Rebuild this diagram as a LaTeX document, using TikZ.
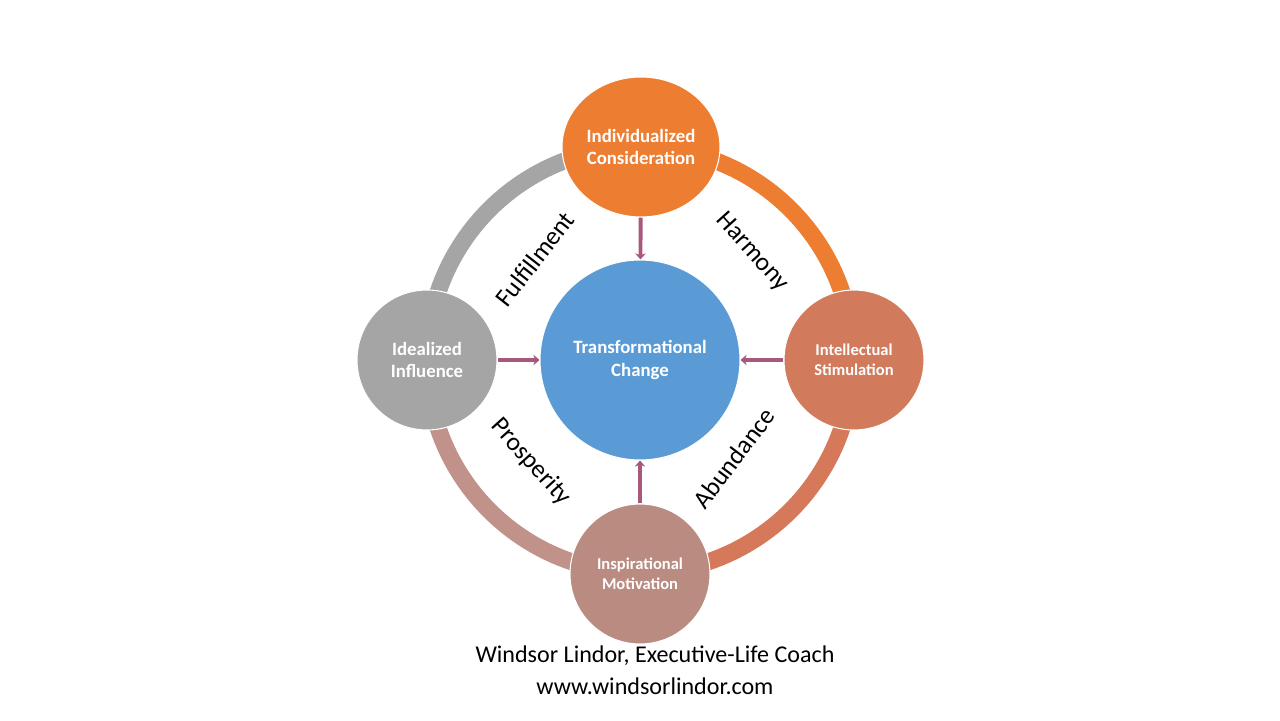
\documentclass[tikz,border=0pt]{standalone}
\usepackage{fontspec}
\setmainfont{Carlito}
\usepackage{xcolor}
\usetikzlibrary{arrows.meta,shapes.geometric}

\definecolor{orng}{HTML}{ED7D31}
\definecolor{grey}{HTML}{A5A5A5}
\definecolor{sky}{HTML}{5B9BD5}
\definecolor{coral}{HTML}{D17B5C}
\definecolor{rosy}{HTML}{B98B81}
\definecolor{ringcoral}{HTML}{D5795A}
\definecolor{ringrosy}{HTML}{C0928A}
\definecolor{arr}{HTML}{A8587A}

\begin{document}
\begin{tikzpicture}[
  x=0.02cm, y=0.02cm,
  orb/.style={circle, draw=white, line width=0.6pt, text=white, align=center,
    font=\fontsize{10.7}{12.6}\selectfont\bfseries, minimum size=2.8cm, inner sep=0pt},
  small/.style={font=\fontsize{9.4}{11.2}\selectfont\bfseries},
  hub/.style={orb, fill=sky, minimum size=4cm},
  ring/.style={line width=0.34cm},
  lbl/.style={font=\fontsize{14.6}{16}\selectfont},
  foot/.style={font=\fontsize{13.7}{16}\selectfont},
  ar/.style={-{Stealth[length=3.5pt,width=6pt]}, arr, line width=2.2pt}
]
\useasboundingbox (-640,-360) rectangle (640,360);

% ring segments
\draw[ring, grey] (0,0) ++(90:4.26cm) arc (90:180:4.26cm);
\draw[ring, orng] (0,0) ++(0:4.26cm) arc (0:90:4.26cm);
\draw[ring, ringcoral] (0,0) ++(-90:4.26cm) arc (-90:0:4.26cm);
\draw[ring, ringrosy] (0,0) ++(180:4.26cm) arc (180:270:4.26cm);

\node[hub] (change) at (0,0) {Transformational\\Change};
\node[orb, ellipse, fill=orng, minimum width=3.16cm, minimum height=2.8cm]
  (consid) at (1,213) {Individualized\\Consideration};
\node[orb, fill=grey] (influ) at (-213,0) {Idealized\\Influence};
\node[orb, small, fill=coral] (stimul) at (214,0) {Intellectual\\Stimulation};
\node[orb, small, fill=rosy] (motiv) at (0,-214) {Inspirational\\Motivation};

\draw[ar] (consid) -- (change);
\draw[ar] (influ) -- (change);
\draw[ar] (stimul) -- (change);
\draw[ar] (motiv) -- (change);

\node[lbl, rotate=52] (fulfil) at (-105,101) {Fulfillment};
\node[lbl, rotate=-48] (harmony) at (112,108) {Harmony};
\node[lbl, rotate=-48] (prosper) at (-109,-102) {Prosperity};
\node[lbl, rotate=53] (abund) at (94,-98) {Abundance};

\node[foot] (coach) at (15,-296) {Windsor Lindor, Executive-Life Coach};
\node[foot] (site) at (15,-326) {www.windsorlindor.com};
\end{tikzpicture}
\end{document}
